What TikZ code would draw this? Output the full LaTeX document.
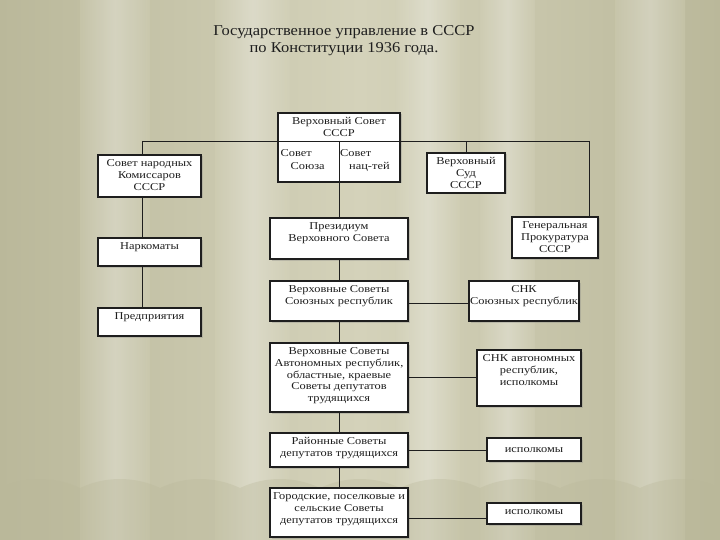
\documentclass[tikz,border=0pt]{standalone}
\usepackage{fontspec}
\setmainfont{Liberation Serif}
\newfontfamily\boxfont[FakeStretch=1.18]{Liberation Serif}
\newfontfamily\titlefont[FakeStretch=1.1]{Liberation Serif}
\usetikzlibrary{shadows}
\definecolor{bgkhaki}{RGB}{212,210,186}
\definecolor{bglight}{RGB}{232,230,214}
\definecolor{bgdark}{RGB}{186,184,154}
\definecolor{inkgray}{RGB}{30,30,30}

\begin{document}
\begin{tikzpicture}[x=1pt, y=-1pt,
    box/.style={draw=inkgray, line width=1.2pt, fill=white, inner sep=0pt,
        drop shadow={shadow xshift=1.5pt, shadow yshift=-1.5pt, opacity=0.3}},
    txt/.style={anchor=north, align=center, inner sep=2pt, yshift=-3pt, text=inkgray,
        font=\boxfont\fontsize{10.5}{11.8}\selectfont},
    link/.style={draw=inkgray, line width=0.9pt}]

% === Fondo: cortina ===
\useasboundingbox (0,0) rectangle (720,540);
\shade[left color=bgdark, right color=bgdark, middle color=bgkhaki] (0,0) rectangle (720,540);
\foreach \xa/\xb in {80/150, 215/290, 395/460, 480/535, 615/685}
    \shade[left color=bgkhaki, right color=bgkhaki, middle color=white, opacity=0.3] (\xa,0) rectangle (\xb,540);
\fill[bgdark, opacity=0.35] (0,540) -- (0,488)
    \foreach \i in {0,...,8} { .. controls (\i*80+25,476) and (\i*80+55,476) .. (\i*80+80,488) }
    -- (720,540) -- cycle;

% === Titulo ===
\node[font=\titlefont\fontsize{15}{17}\selectfont, align=center, text=inkgray] (title) at (344,41)
    {Государственное управление в СССР\\по Конституции 1936 года.};

% === Nivel de la Union ===
\node[box, minimum width=122, minimum height=69] (vs) at (339,147.5) {};
\node[txt] (vs-t) at (vs.north) {Верховный Совет\\СССР};

\node[box, minimum width=103, minimum height=42] (snk) at (149.5,176) {};
\node[txt] (snk-t) at (snk.north) {Совет народных\\Комиссаров\\СССР};

\node[box, minimum width=103, minimum height=28] (narkom) at (149.5,252) {};
\node[txt] (narkom-t) at (narkom.north) {Наркоматы};

\node[box, minimum width=103, minimum height=28] (pred) at (149.5,322) {};
\node[txt] (pred-t) at (pred.north) {Предприятия};

\node[box, minimum width=78, minimum height=40] (sud) at (466,173) {};
\node[txt] (sud-t) at (sud.north) {Верховный\\Суд\\СССР};

\node[box, minimum width=86, minimum height=41] (prok) at (555,237.5) {};
\node[txt] (prok-t) at (prok.north) {Генеральная\\Прокуратура\\СССР};

\node[box, minimum width=138, minimum height=41] (prez) at (339,238.5) {};
\node[txt] (prez-t) at (prez.north) {Президиум\\Верховного Совета};

% === Republicas y niveles locales ===
\node[box, minimum width=138, minimum height=40] (vsr) at (339,301) {};
\node[txt] (vsr-t) at (vsr.north) {Верховные Советы\\Союзных республик};

\node[box, minimum width=110, minimum height=40] (snkr) at (524,301) {};
\node[txt] (snkr-t) at (snkr.north) {СНК\\Союзных республик};

\node[box, minimum width=138, minimum height=69] (vsa) at (339,377.5) {};
\node[txt] (vsa-t) at (vsa.north) {Верховные Советы\\Автономных республик,\\областные, краевые\\Советы депутатов\\трудящихся};

\node[box, minimum width=104, minimum height=56] (snka) at (529,378) {};
\node[txt] (snka-t) at (snka.north) {СНК автономных\\республик,\\исполкомы};

\node[box, minimum width=138, minimum height=34] (rai) at (339,450) {};
\node[txt] (rai-t) at (rai.north) {Районные Советы\\депутатов трудящихся};

\node[box, minimum width=94, minimum height=23] (isp1) at (534,449.5) {};
\node[txt] (isp1-t) at ([yshift=-5pt]isp1.north) {исполкомы};

\node[box, minimum width=94, minimum height=21] (isp2) at (534,513.5) {};
\node[txt] (isp2-t) at ([yshift=-1.5pt]isp2.north) {исполкомы};

\node[box, minimum width=138, minimum height=49] (gor) at (339,512.5) {};
\node[txt] (gor-t) at (gor.north) {Городские, поселковые и\\сельские Советы\\депутатов трудящихся};

% === Conexiones ===
\coordinate (hl) at (142,141);
\coordinate (hr) at (589,141);
\draw[link] (hl) -- (hr);
\draw[link] (hl) -- (hl |- snk.north);
\draw[link] (hr) -- (hr |- prok.north);
\draw[link] (sud.north) -- (sud.north |- hl);
\draw[link] (hl |- snk.south) -- (hl |- narkom.north);
\draw[link] (hl |- narkom.south) -- (hl |- pred.north);
\draw[link] (vs.north |- hl) -- (prez.north);
\draw[link] (prez.south) -- (vsr.north);
\draw[link] (vsr.south) -- (vsa.north);
\draw[link] (vsa.south) -- (rai.north);
\draw[link] (rai.south) -- (gor.north);
\draw[link] ([yshift=-2pt]vsr.east) -- ([yshift=-2pt]vsr.east -| snkr.west);
\draw[link] (vsa.east) -- (vsa.east -| snka.west);
\draw[link] (rai.east) -- (rai.east -| isp1.west);
\draw[link] ([yshift=-6pt]gor.east) -- ([yshift=-6pt]gor.east -| isp2.west);

% Celdas del Soviet Supremo
\node[txt, anchor=north west, align=left, font=\boxfont\fontsize{10.5}{13.5}\selectfont] (vs-l)
    at ([xshift=1pt,yshift=-3pt]vs.west |- hl) {Совет\\\hspace*{10pt}Союза};
\node[txt, anchor=north west, align=left, font=\boxfont\fontsize{10.5}{13.5}\selectfont] (vs-r)
    at ([xshift=-1pt,yshift=-3pt]vs.north |- hl) {Совет\\\hspace*{9pt}нац-тей};

\end{tikzpicture}
\end{document}
